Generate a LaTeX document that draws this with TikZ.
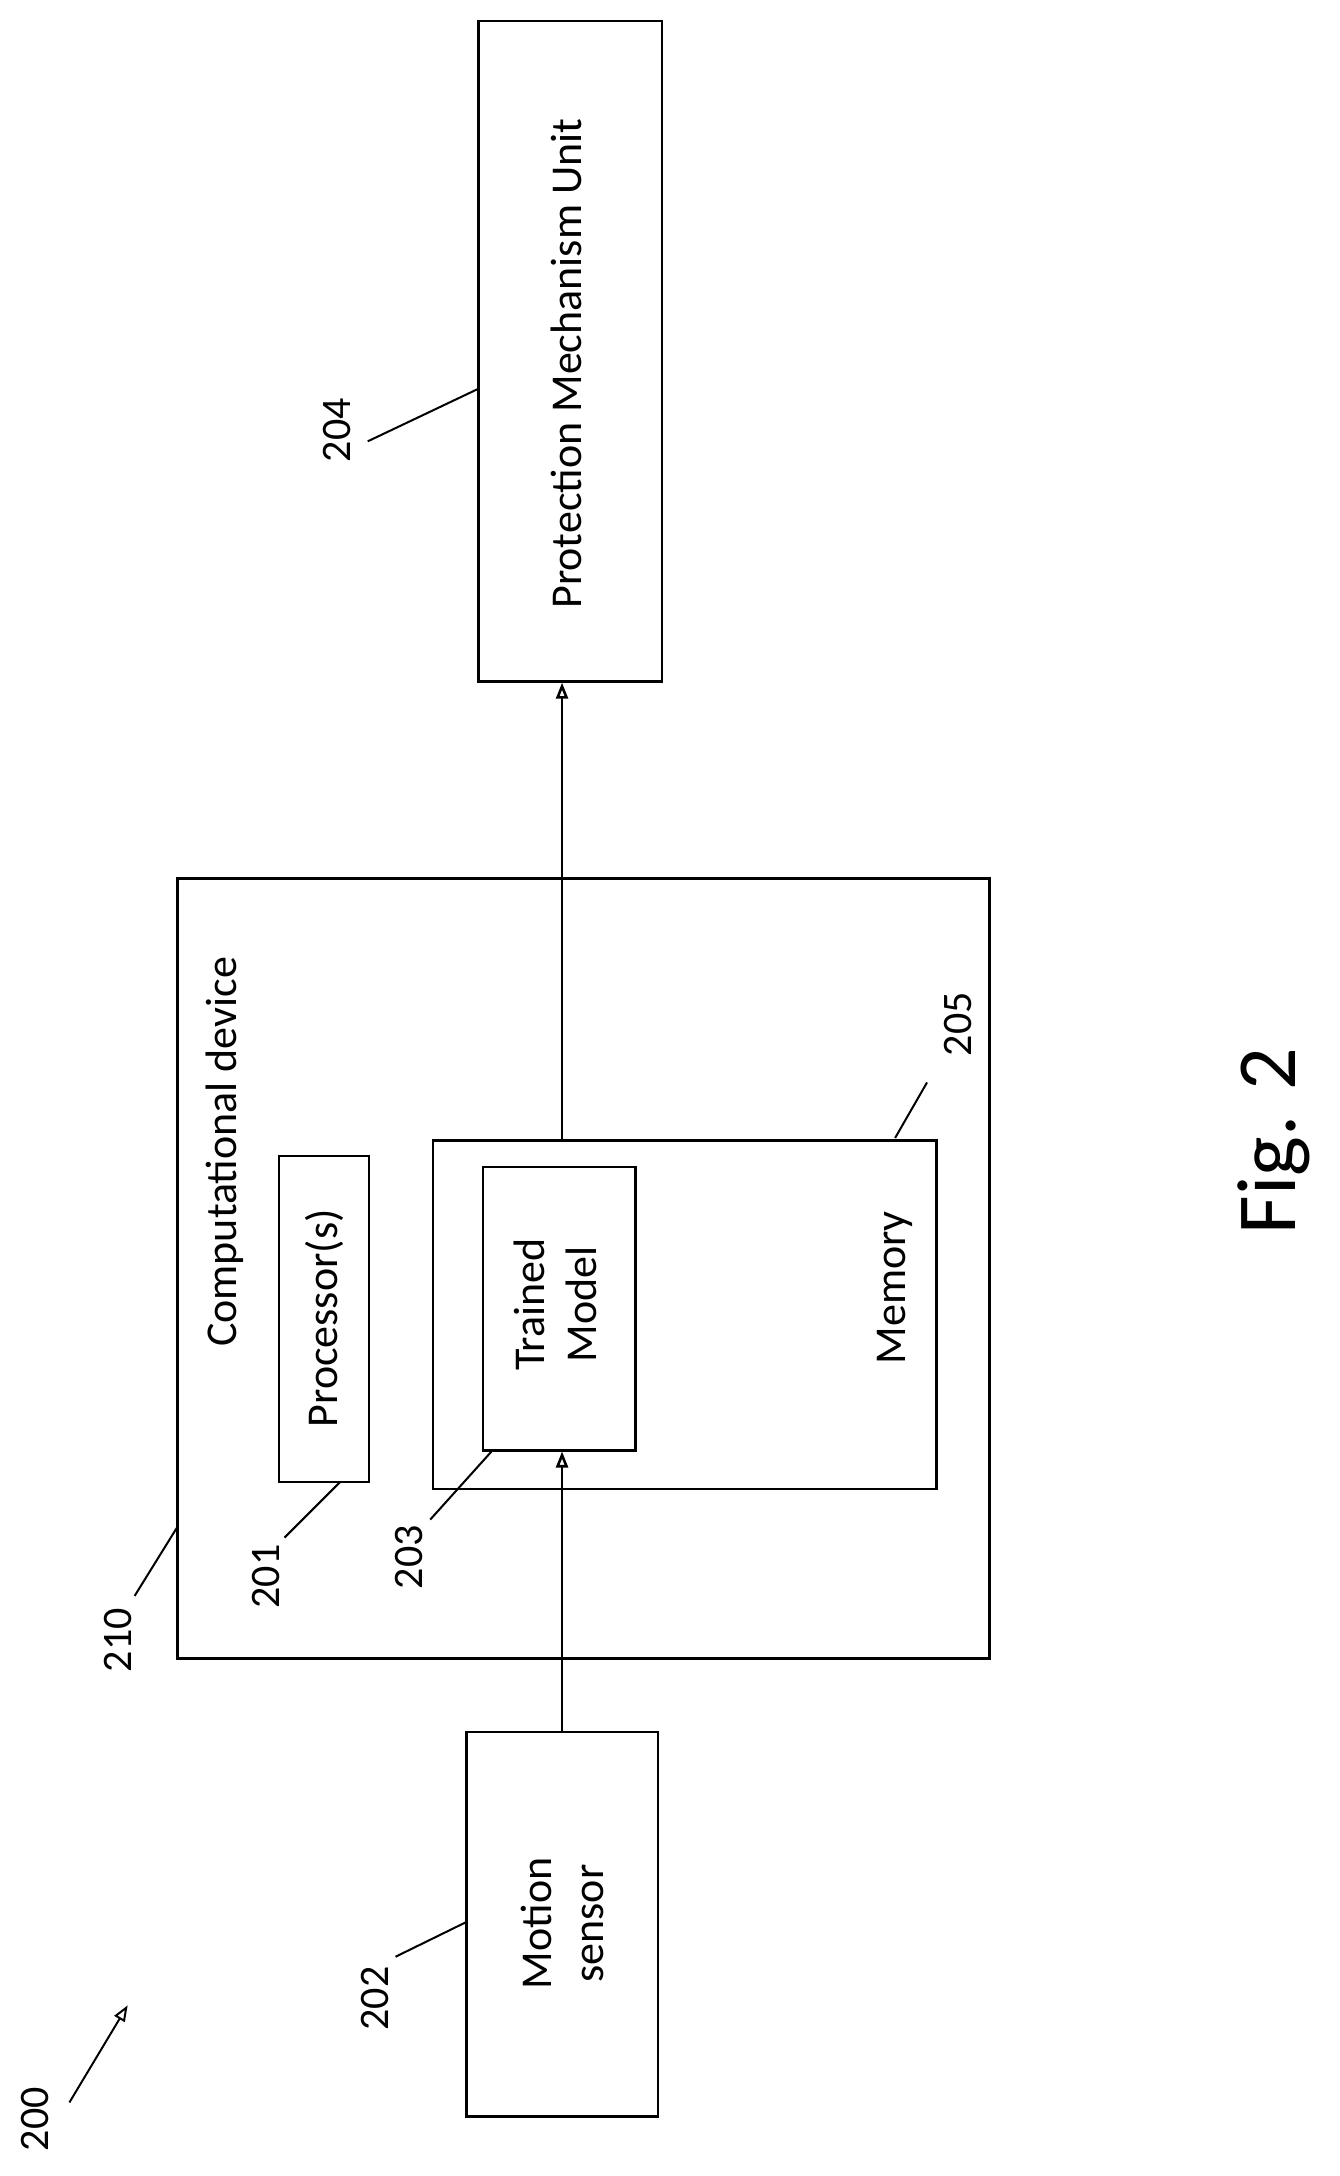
\documentclass[tikz,border=0pt]{standalone}
\usepackage{fontspec}
\setmainfont{Carlito}
\usetikzlibrary{fit,arrows.meta}
\begin{document}
\begin{tikzpicture}[x=0.6938pt,y=-0.6938pt,
  box/.style={draw,line width=1.3pt,inner sep=0pt},
  txt/.style={rotate=90,font=\fontsize{22}{26}\selectfont,align=center},
  num/.style={rotate=90,font=\fontsize{21}{24}\selectfont},
  lead/.style={line width=1pt},
  arr/.style={line width=1.3pt,-{Triangle[open,length=8pt,width=6pt]}}]
\useasboundingbox (0,0) rectangle (965,1568);
\node[box,fit={(345,15)(477,491)}] (pm) {};
\node[box,fit={(128,633)(713,1195)}] (cd) {};
\node[box,fit={(201,833)(266,1068)}] (pr) {};
\node[box,fit={(312,822)(675,1073)}] (mem) {};
\node[box,fit={(348,841)(458,1045)}] (tm) {};
\node[box,fit={(336,1248)(474,1525)}] (ms) {};
\node[txt] at (408,262) {Protection Mechanism Unit};
\node[txt] at (162,830) {Computational device};
\node[txt] at (234,950) {Processor(s)};
\node[txt] at (400,940) {Trained\\Model};
\node[txt] at (645,928) {Memory};
\node[txt] at (405,1386) {Motion\\sensor};
\node[rotate=90,font=\fontsize{42}{48}\selectfont] at (918,822) {Fig. 2};
\draw[arr] (ms.north) -- (ms.north |- tm.south);
\draw[arr] (mem.north -| ms.north) -- (pm.south -| ms.north);
\node[num] (n204) at (243,310) {204};
\node[num] (n205) at (690,738) {205};
\node[num] (n210) at (85,1182) {210};
\node[num] (n201) at (192,1136) {201};
\node[num] (n203) at (295,1122) {203};
\node[num] (n202) at (270,1440) {202};
\node[num] (n200) at (25,1527) {200};
\coordinate (c204) at (345,280);
\coordinate (c205) at (645,820);
\coordinate (c210) at (128,1100);
\coordinate (c201) at (245,1068);
\coordinate (c203) at (355,1045);
\coordinate (c202) at (336,1385);
\coordinate (c200) at (92,1445);
\draw[lead] (265,318) -- (c204);
\draw[lead] (668,780) -- (c205);
\draw[lead] (97,1150) -- (c210);
\draw[lead] (205,1108) -- (c201);
\draw[lead] (310,1095) -- (c203);
\draw[lead] (285,1410) -- (c202);
\draw[lead,-{Triangle[open,length=8pt,width=6pt]}] (50,1515) -- (c200);
\end{tikzpicture}
\end{document}
